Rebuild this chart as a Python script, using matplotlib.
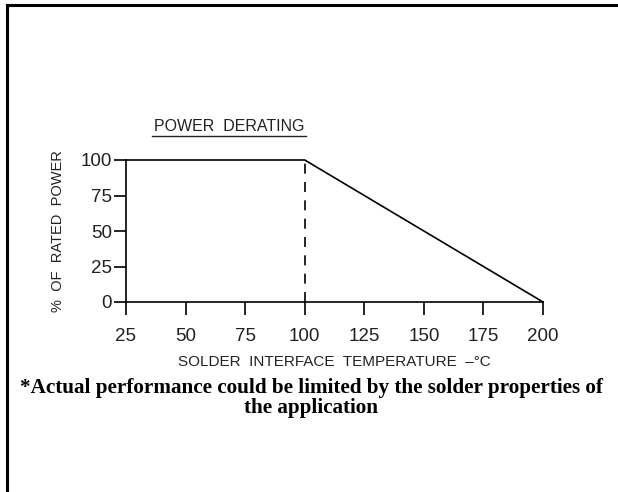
import matplotlib
matplotlib.use('Agg')
import matplotlib.pyplot as plt
from matplotlib.lines import Line2D

# derating curve: % of rated power vs solder interface temperature
temp = [25, 100, 200]
power = [100, 100, 0]
knee_t = 100

xticks = [25, 50, 75, 100, 125, 150, 175, 200]
yticks = [0, 25, 50, 75, 100]

W, H = 618, 492
fig = plt.figure(figsize=(W / 100, H / 100), dpi=100)
fig.patch.set_facecolor('white')

# page frame (top and left edges visible)
fig.add_artist(Line2D([7 / W, 1], [1 - 5 / H, 1 - 5 / H], color='black', lw=2.2,
                      transform=fig.transFigure))
fig.add_artist(Line2D([7 / W, 7 / W], [0, 1 - 5 / H], color='black', lw=2.2,
                      transform=fig.transFigure))

ax = fig.add_axes([126 / W, (H - 302) / H, 417 / W, 142 / H])
ax.plot(temp, power, color='black', lw=1.2, clip_on=False)
ax.plot([knee_t, knee_t], [0, 100], color='black', lw=1.2, ls=(0, (6, 5)), clip_on=False)

ax.set_xlim(25, 200)
ax.set_ylim(0, 100)
for s in ['top', 'right']:
    ax.spines[s].set_visible(False)
for s in ['left', 'bottom']:
    ax.spines[s].set_linewidth(1.2)

font = 'Liberation Sans'
ax.set_xticks(xticks)
ax.set_yticks(yticks)
ax.set_xticklabels([str(v) for v in xticks], fontsize=13.5, family=font, color='#222222')
ax.set_yticklabels([str(v) for v in yticks], fontsize=13.5, family=font, color='#222222')
ax.tick_params(axis='both', direction='out', length=9, width=1.2, color='black')
ax.tick_params(axis='x', pad=10)
ax.tick_params(axis='y', pad=1)

ax.set_xlabel('SOLDER  INTERFACE  TEMPERATURE  \u2013\u00b0C', fontsize=11, family=font,
              color='#222222', labelpad=7)
ax.set_ylabel('%  OF  RATED  POWER', fontsize=10.5, family=font, color='#222222', labelpad=11)

fig.text(229 / W, 1 - 127 / H, 'POWER  DERATING', ha='center', va='center', fontsize=11.5,
         family=font, color='#222222')
fig.add_artist(Line2D([152 / W, 306 / W], [1 - 136 / H, 1 - 136 / H], color='#222222', lw=1,
                      transform=fig.transFigure))

fig.text(311 / W, 1 - 398 / H,
         '*Actual performance could be limited by the solder properties of\nthe application',
         ha='center', va='center', fontsize=15.2, family='Liberation Serif', weight='bold',
         linespacing=1.05)

fig.savefig('out.png', dpi=100)
